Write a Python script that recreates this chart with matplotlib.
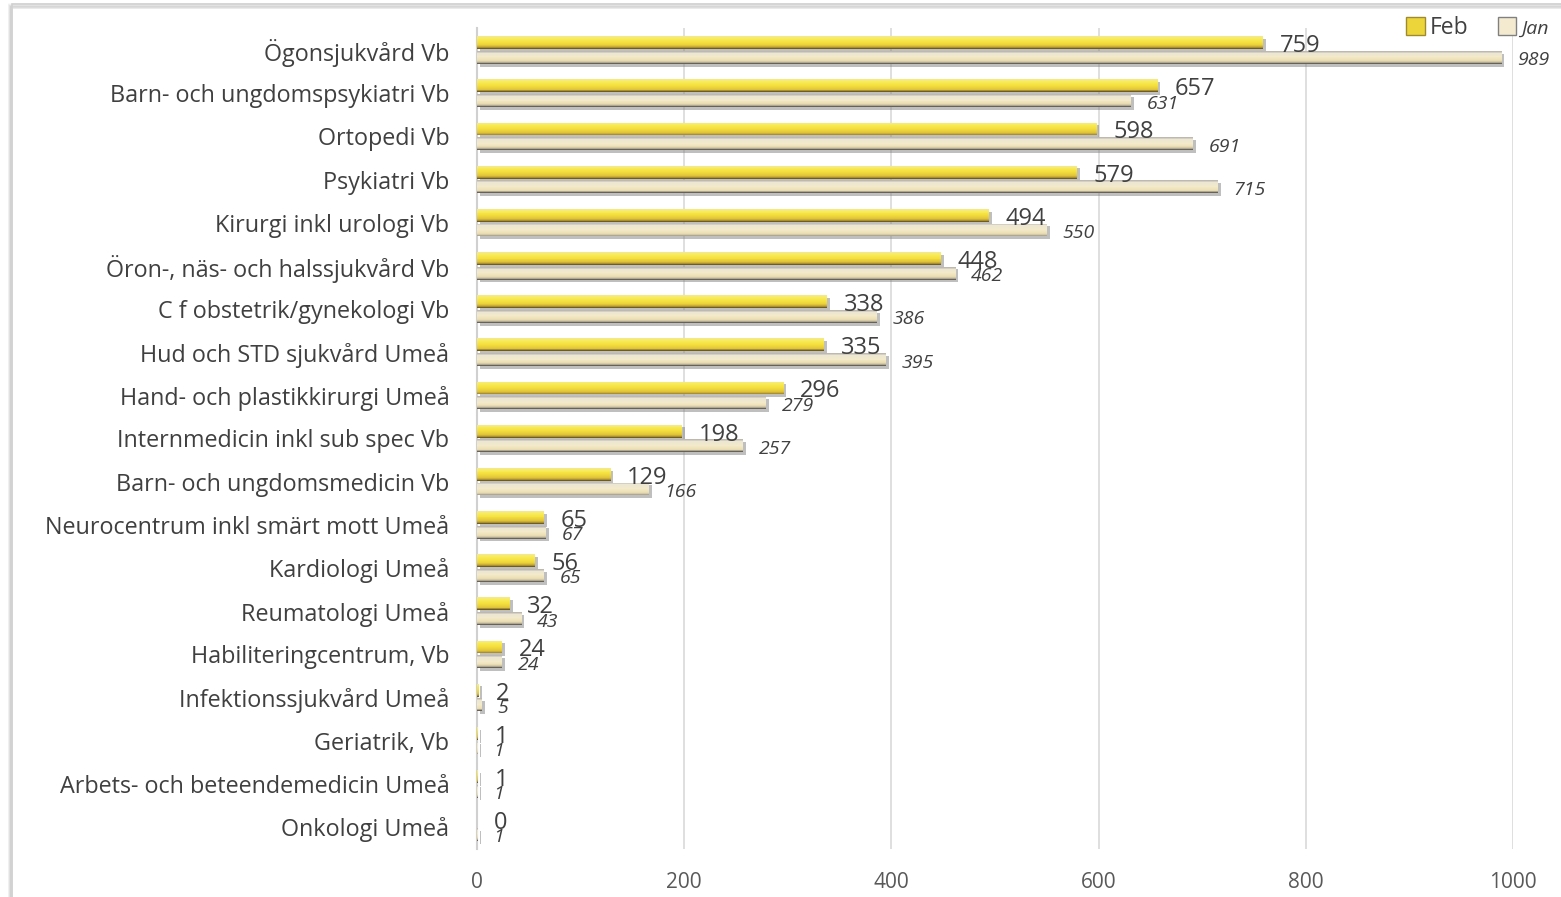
import numpy as np
import matplotlib
matplotlib.use('Agg')
import matplotlib.pyplot as plt
from matplotlib.colors import LinearSegmentedColormap
from matplotlib.patches import Rectangle, Patch
import matplotlib.patheffects as pe

categories = [
    'Ögonsjukvård Vb', 'Barn- och ungdomspsykiatri Vb', 'Ortopedi Vb',
    'Psykiatri Vb', 'Kirurgi inkl urologi Vb', 'Öron-, näs- och halssjukvård Vb',
    'C f obstetrik/gynekologi Vb', 'Hud och STD sjukvård Umeå',
    'Hand- och plastikkirurgi Umeå', 'Internmedicin inkl sub spec Vb',
    'Barn- och ungdomsmedicin Vb', 'Neurocentrum inkl smärt mott Umeå',
    'Kardiologi Umeå', 'Reumatologi Umeå', 'Habiliteringcentrum, Vb',
    'Infektionssjukvård Umeå', 'Geriatrik, Vb', 'Arbets- och beteendemedicin Umeå',
    'Onkologi Umeå',
]
feb = [759, 657, 598, 579, 494, 448, 338, 335, 296, 198, 129, 65, 56, 32, 24, 2, 1, 1, 0]
jan = [989, 631, 691, 715, 550, 462, 386, 395, 279, 257, 166, 67, 65, 43, 24, 5, 1, 1, 1]
xticks = [0, 200, 400, 600, 800, 1000]

plt.rcParams['font.family'] = ['Open Sans', 'DejaVu Sans']

# gradients, from visual top of the bar to its bottom
feb_cmap = LinearSegmentedColormap.from_list(
    'feb', [(0, '#f3e88a'), (0.15, '#f8ec5c'), (0.45, '#f5e03c'),
            (0.75, '#e3c83a'), (0.9, '#bfa032'), (1, '#6e5c22')])
jan_cmap = LinearSegmentedColormap.from_list(
    'jan', [(0, '#bdb9b0'), (0.15, '#ece6d2'), (0.45, '#f3eacb'),
            (0.75, '#ecdfb4'), (0.9, '#c8bea2'), (1, '#66625a')])

fig = plt.figure(figsize=(15.61, 8.97), dpi=100)
ax = fig.add_axes([0.3056, 0.054, 0.6637, 0.9143])

# outer frame with shadow on left/top
for i, a in enumerate([0.05, 0.08, 0.12, 0.18]):
    fig.patches.append(Rectangle((8.5 / 1561 + i * 0.0006, -0.1), 1.2, 1.095 - i * 0.001,
                                 transform=fig.transFigure, fill=False,
                                 edgecolor='#808080', alpha=a, lw=2))
fig.patches.append(Rectangle((12 / 1561, -0.1), 1.2, 1.096,
                             transform=fig.transFigure, fill=False,
                             edgecolor='#d0d0d0', lw=1.2))

y = np.arange(len(categories))
h = 0.3
n = 14
shadow = [pe.SimplePatchShadow(offset=(2, -2), shadow_rgbFace='#808080', alpha=0.5), pe.Normal()]
for vals, off, cmap in [(feb, -0.17, feb_cmap), (jan, 0.17, jan_cmap)]:
    base = ax.barh(y + off, vals, height=h, color=cmap(0.5), zorder=3)
    for b in base:
        b.set_path_effects(shadow)
    # stripes for a vertical gradient
    for k in range(n):
        ax.barh(y + off - h / 2 + (k + 0.5) * h / n, vals, height=h / n,
                color=cmap(k / (n - 1)), zorder=4, linewidth=0)

for i in range(len(categories)):
    ax.text(feb[i] + 16, y[i] - 0.09, str(feb[i]), fontsize=17, color='#404040',
            va='center', ha='left', zorder=6)
    ax.text(jan[i] + 15, y[i] + 0.24, str(jan[i]), fontsize=14, color='#404040',
            style='italic', va='center', ha='left', zorder=6)

ax.set_xlim(0, 1000)
ax.set_ylim(len(categories) - 0.5, -0.5)
ax.set_yticks(y)
ax.set_yticklabels(categories, fontsize=16.8, color='#404040')
ax.set_xticks(xticks)
ax.set_xticklabels([str(t) for t in xticks], fontsize=15, color='#595959')
ax.tick_params(axis='both', length=0)
ax.tick_params(axis='y', pad=20)
ax.tick_params(axis='x', pad=17)
ax.grid(axis='x', color='#d9d9d9', lw=1.2, zorder=0)
ax.set_axisbelow(True)
for s in ['top', 'right', 'bottom']:
    ax.spines[s].set_visible(False)
ax.spines['left'].set_color('#d0d0d0')
ax.spines['left'].set_linewidth(1.5)

handles = [Patch(facecolor='#ecd53a', edgecolor='#a08a30'),
           Patch(facecolor='#f3ead0', edgecolor='#808080')]
leg = fig.legend(handles, ['Feb', 'Jan'], loc='upper right', bbox_to_anchor=(1.005, 1.005),
                 ncol=2, frameon=False, handlelength=0.8, handleheight=0.8,
                 handletextpad=0.2, columnspacing=1.3, fontsize=16.5)
leg.get_texts()[0].set_color('#404040')
leg.get_texts()[1].set_fontsize(14)
leg.get_texts()[1].set_style('italic')
leg.get_texts()[1].set_color('#404040')

fig.savefig('out.png', dpi=100)
